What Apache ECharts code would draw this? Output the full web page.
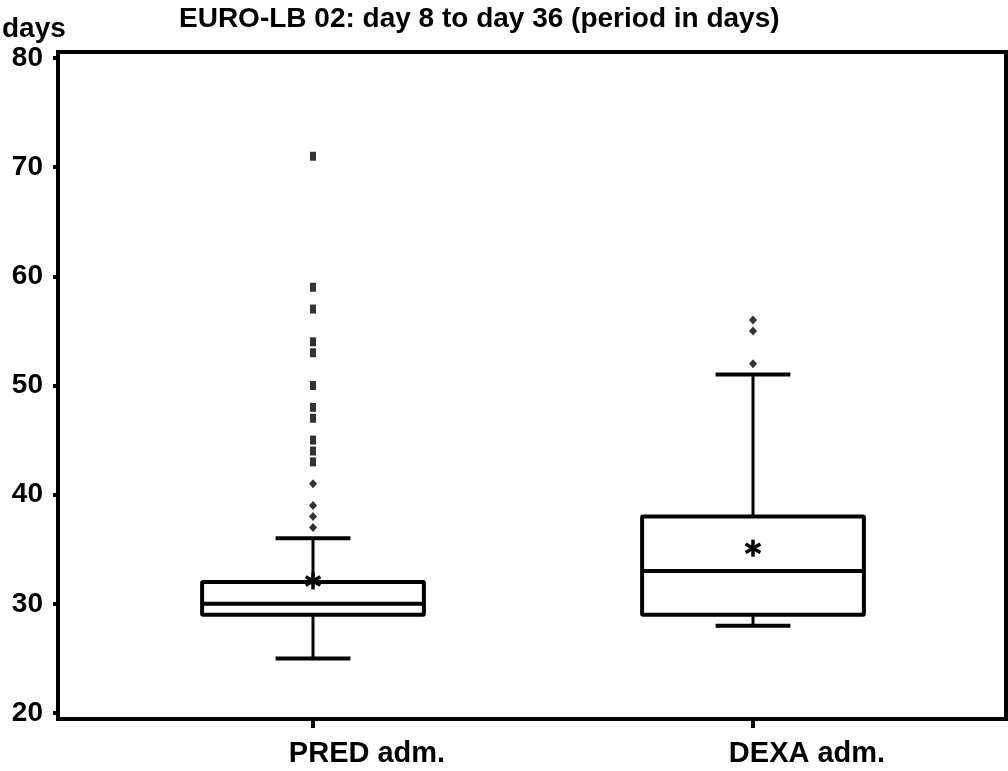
<!DOCTYPE html>
<html>
<head>
<meta charset="utf-8">
<script src="https://cdn.jsdelivr.net/npm/echarts@6/dist/echarts.min.js"></script>
<style>
html,body{margin:0;padding:0;background:#fff;}
#chart{width:1008px;height:771px;}
</style>
</head>
<body>
<div id="chart"></div>
<script>
// ---- data ----
const categories = ['PRED adm.', 'DEXA adm.'];
const whiskerLow = [25, 28];
const q1 = [29, 29];
const median = [30, 33];
const q3 = [32, 38];
const whiskerHigh = [36, 51];
const means = [32.1, 35.1];
const predOutliersSquare = [71, 59, 57, 54, 53, 50, 48, 47, 45, 44, 43];
const predOutliersDiamond = [41, 39, 38, 37];
const dexaOutliersDiamond = [56, 55, 52];
const yTicks = [20, 30, 40, 50, 60, 70, 80];

const titleText = 'EURO-LB 02: day 8 to day 36 (period in days)';
const yName = 'days';
const FONT = '"Liberation Sans", Arial, sans-serif';

const chart = echarts.init(document.getElementById('chart'), null, {renderer: 'canvas'});

const boxData = categories.map((c, i) => [i, whiskerLow[i], q1[i], median[i], q3[i], whiskerHigh[i], means[i]]);

function renderBox(params, api) {
  const idx = api.value(0);
  const band = api.size([1, 0])[0];
  const halfBox = band * 0.252;
  const halfCap = band * 0.085;
  const x = api.coord([idx, 0])[0];
  const yLow = api.coord([idx, api.value(1)])[1];
  const yQ1 = api.coord([idx, api.value(2)])[1];
  const yMed = api.coord([idx, api.value(3)])[1];
  const yQ3 = api.coord([idx, api.value(4)])[1];
  const yHigh = api.coord([idx, api.value(5)])[1];
  const yMean = api.coord([idx, api.value(6)])[1];
  const stroke = {stroke: '#000', lineWidth: 4, fill: null};
  const thin = {stroke: '#000', lineWidth: 3};
  const star = {stroke: '#000', lineWidth: 3.5};
  const s = 8.5;
  const ang = Math.PI / 6;
  const dx = s * Math.cos(ang), dy = s * Math.sin(ang);
  return {
    type: 'group',
    children: [
      {type: 'line', shape: {x1: x, y1: yQ3, x2: x, y2: yHigh}, style: thin},
      {type: 'line', shape: {x1: x, y1: yQ1, x2: x, y2: yLow}, style: thin},
      {type: 'line', shape: {x1: x - halfCap, y1: yHigh, x2: x + halfCap, y2: yHigh}, style: {stroke: '#000', lineWidth: 4}},
      {type: 'line', shape: {x1: x - halfCap, y1: yLow, x2: x + halfCap, y2: yLow}, style: {stroke: '#000', lineWidth: 4}},
      {type: 'rect', shape: {x: x - halfBox, y: yQ3, width: 2 * halfBox, height: yQ1 - yQ3, r: 1}, style: stroke},
      {type: 'line', shape: {x1: x - halfBox, y1: yMed, x2: x + halfBox, y2: yMed}, style: {stroke: '#000', lineWidth: 4}},
      {type: 'line', shape: {x1: x, y1: yMean - s, x2: x, y2: yMean + s}, style: star},
      {type: 'line', shape: {x1: x - dx, y1: yMean - dy, x2: x + dx, y2: yMean + dy}, style: star},
      {type: 'line', shape: {x1: x - dx, y1: yMean + dy, x2: x + dx, y2: yMean - dy}, style: star}
    ]
  };
}

const option = {
  backgroundColor: '#fff',
  animation: false,
  grid: {left: 93, right: 35, top: 58, bottom: 58, containLabel: false},
  xAxis: {
    type: 'category',
    data: categories,
    offset: 6,
    axisLine: {show: false},
    axisTick: {show: true, alignWithLabel: true, length: 9, lineStyle: {color: '#000', width: 4}},
    axisLabel: {color: '#000', fontFamily: FONT, fontWeight: 'bold', fontSize: 29, margin: 20,
      align: 'center', padding: [0, 0, 0, 108]},
    splitLine: {show: false}
  },
  yAxis: {
    type: 'value',
    min: 20, max: 80, interval: 10,
    offset: 35,
    axisLine: {show: false},
    axisTick: {show: true, length: 5, lineStyle: {color: '#000', width: 4}},
    axisLabel: {color: '#000', fontFamily: FONT, fontWeight: 'bold', fontSize: 28, margin: 15,
      padding: [9, 0, 0, 0],
      formatter: v => (yTicks.indexOf(v) >= 0 ? String(v) : '')},
    splitLine: {show: false}
  },
  graphic: [
    {type: 'rect', z: 100, silent: true,
      shape: {x: 58, y: 52, width: 948, height: 667},
      style: {fill: null, stroke: '#000', lineWidth: 4}},
    {type: 'text', x: 179, y: 19, silent: true,
      style: {text: titleText, fill: '#000', font: 'bold 28px ' + FONT, textAlign: 'left', textVerticalAlign: 'middle'}},
    {type: 'text', x: 2, y: 29, silent: true,
      style: {text: yName, fill: '#000', font: 'bold 28px ' + FONT, textAlign: 'left', textVerticalAlign: 'middle'}}
  ],
  series: [
    {type: 'custom', renderItem: renderBox, data: boxData, encode: {x: 0, y: [1, 5]}, z: 2},
    {type: 'scatter', symbol: 'rect', symbolSize: [6, 9], itemStyle: {color: '#000'},
      data: predOutliersSquare.map(v => [0, v]), z: 3},
    {type: 'scatter', symbol: 'diamond', symbolSize: [8, 9], itemStyle: {color: '#000'},
      data: predOutliersDiamond.map(v => [0, v]), z: 3},
    {type: 'scatter', symbol: 'diamond', symbolSize: [8, 9], itemStyle: {color: '#000'},
      data: dexaOutliersDiamond.map(v => [1, v]), z: 3}
  ]
};
chart.setOption(option);
</script>
</body>
</html>
